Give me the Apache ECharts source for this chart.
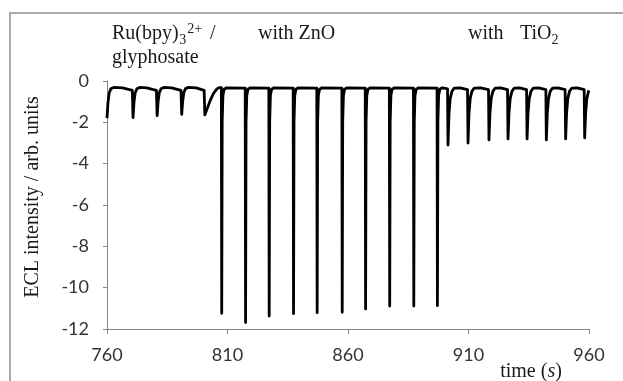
<!DOCTYPE html>
<html>
<head>
<meta charset="utf-8">
<script src="https://cdn.jsdelivr.net/npm/echarts@6/dist/echarts.min.js"></script>
<style>
  html, body { margin: 0; padding: 0; background: #fff; }
  #chart { width: 623px; height: 381px; }
</style>
</head>
<body>
<div id="chart"></div>
<script>
// ECL trace, [time (s), intensity (arb. units)]
// Ru(bpy)3 2+ / glyphosate only
const glyphosateTrace = [
  [760.0, -1.80], [760.4, -1.05], [760.9, -0.58], [761.6, -0.38], [762.8, -0.31], [766.5, -0.33], [770.5, -0.45],
  [770.8, -1.77], [771.2, -1.02], [771.7, -0.57], [772.4, -0.38], [773.6, -0.31], [776.5, -0.33], [780.5, -0.45],
  [780.8, -1.68], [781.2, -1.00], [781.7, -0.56], [782.4, -0.38], [783.6, -0.31], [786.8, -0.33], [790.7, -0.45],
  [791.0, -1.61], [791.4, -0.98], [791.9, -0.55], [792.6, -0.37], [793.8, -0.31], [797.0, -0.33], [800.3, -0.45],
  [800.6, -1.64], [801.5, -1.35], [802.8, -0.95], [804.2, -0.60], [805.6, -0.38], [806.5, -0.32], [807.45, -0.32]
];

// with ZnO
const znoTrace = [
  [807.6, -11.24], [807.8, -2.0], [808.1, -0.7], [808.6, -0.40], [809.6, -0.33], [817.35, -0.34],
  [817.5, -11.69], [817.7, -2.0], [818.0, -0.7], [818.5, -0.40], [819.5, -0.33], [827.15, -0.34],
  [827.3, -11.37], [827.5, -2.0], [827.8, -0.7], [828.3, -0.40], [829.3, -0.33], [837.25, -0.34],
  [837.4, -11.26], [837.6, -2.0], [837.9, -0.7], [838.4, -0.40], [839.4, -0.33], [847.05, -0.34],
  [847.2, -11.21], [847.4, -2.0], [847.7, -0.7], [848.2, -0.40], [849.2, -0.33], [857.45, -0.34],
  [857.6, -11.19], [857.8, -2.0], [858.1, -0.7], [858.6, -0.40], [859.6, -0.33], [867.15, -0.34],
  [867.3, -11.03], [867.5, -2.0], [867.8, -0.7], [868.3, -0.40], [869.3, -0.33], [877.15, -0.34],
  [877.3, -10.89], [877.5, -2.0], [877.8, -0.7], [878.3, -0.40], [879.3, -0.33], [887.15, -0.34],
  [887.3, -10.89], [887.5, -2.0], [887.8, -0.7], [888.3, -0.40], [889.3, -0.33], [896.95, -0.34],
  [897.1, -10.87], [897.3, -2.0], [897.6, -0.7], [898.1, -0.40], [899.1, -0.33], [901.3, -0.38]
];

// with TiO2
const tio2Trace = [
  [901.5, -3.10], [901.9, -1.60], [902.4, -0.85], [903.1, -0.50], [904.1, -0.34], [906.5, -0.33], [909.6, -0.42],
  [909.8, -3.00], [910.2, -1.60], [910.7, -0.85], [911.4, -0.50], [912.4, -0.34], [915.0, -0.33], [918.3, -0.42],
  [918.5, -2.85], [918.9, -1.55], [919.4, -0.85], [920.1, -0.50], [921.1, -0.34], [923.3, -0.33], [926.2, -0.42],
  [926.4, -2.80], [926.8, -1.55], [927.3, -0.85], [928.0, -0.50], [929.0, -0.34], [931.2, -0.33], [934.1, -0.42],
  [934.3, -2.80], [934.7, -1.55], [935.2, -0.85], [935.9, -0.50], [936.9, -0.34], [939.1, -0.33], [942.1, -0.42],
  [942.3, -2.85], [942.7, -1.55], [943.2, -0.85], [943.9, -0.50], [944.9, -0.34], [947.1, -0.33], [950.1, -0.42],
  [950.3, -2.80], [950.7, -1.55], [951.2, -0.85], [951.9, -0.50], [952.9, -0.34], [955.1, -0.33], [958.0, -0.42],
  [958.2, -2.75], [958.6, -1.55], [959.1, -0.85], [959.8, -0.50], [960.0, -0.45]
];

const xTicks = { min: 760, max: 960, interval: 50 };
const yTicks = { min: -12, max: 0, interval: 2 };

const trace = [...glyphosateTrace, ...znoTrace, ...tio2Trace];

const chart = echarts.init(document.getElementById('chart'), null, { renderer: 'canvas' });

const serif = '"Liberation Serif", "DejaVu Serif", serif';
const tickFont = 'Lato, "Liberation Sans", sans-serif';
const textColor = '#1a1a1a';

// measure text so sub/superscripts follow the main label
const measureCtx = document.createElement('canvas').getContext('2d');
function textWidth(str, font) {
  measureCtx.font = font;
  return measureCtx.measureText(str).width;
}
const ruFont = '20px ' + serif;
const smallFont = '14px ' + serif;
const ruX = 112;
const subX = ruX + textWidth('Ru(bpy)', ruFont) + 0.5;
const supX = subX + textWidth('3', smallFont) + 1;
const slashX = supX + textWidth('2+', smallFont) + 8;

const option = {
  animation: false,
  backgroundColor: '#ffffff',
  grid: { left: 107, right: 34, top: 81, bottom: 52 },
  xAxis: {
    type: 'value',
    min: xTicks.min,
    max: xTicks.max,
    interval: xTicks.interval,
    axisLine: { onZero: false, lineStyle: { color: '#868686', width: 1 } },
    axisTick: { show: true, length: 5, lineStyle: { color: '#868686' } },
    axisLabel: { margin: 17, color: '#333', fontSize: 18, fontFamily: tickFont },
    splitLine: { show: false }
  },
  yAxis: {
    type: 'value',
    min: yTicks.min,
    max: yTicks.max,
    interval: yTicks.interval,
    axisLine: { show: true, lineStyle: { color: '#868686', width: 1 } },
    axisTick: { show: true, length: 4, lineStyle: { color: '#868686' } },
    axisLabel: { margin: 18, color: '#333', fontSize: 18, fontFamily: tickFont },
    splitLine: { show: false }
  },
  series: [
    {
      type: 'line',
      data: trace,
      showSymbol: false,
      smooth: false,
      lineStyle: { color: '#000', width: 2.8, join: 'round' },
      z: 3
    }
  ],
  graphic: [
    // chart-area frame
    {
      type: 'rect',
      shape: { x: 10, y: 13, width: 700, height: 500 },
      style: { fill: 'none', stroke: '#aaaaaa', lineWidth: 2 },
      silent: true
    },
    // y axis title
    {
      type: 'text',
      x: 33, y: 197,
      rotation: Math.PI / 2,
      style: {
        text: 'ECL intensity / arb. units',
        font: '20px ' + serif,
        fill: textColor,
        align: 'center',
        verticalAlign: 'middle'
      }
    },
    // x axis title
    {
      type: 'text',
      x: 531, y: 372,
      style: {
        text: '{n|time (}{i|s}{n|)}',
        align: 'center',
        verticalAlign: 'middle',
        rich: {
          n: { font: '20px ' + serif, fill: textColor },
          i: { font: 'italic 20px ' + serif, fill: textColor }
        }
      }
    },
    // annotations
    { type: 'text', x: ruX, y: 34, style: { text: 'Ru(bpy)', font: ruFont, fill: textColor, verticalAlign: 'middle' } },
    { type: 'text', x: subX, y: 40, style: { text: '3', font: smallFont, fill: textColor, verticalAlign: 'middle' } },
    { type: 'text', x: supX, y: 29, style: { text: '2+', font: smallFont, fill: textColor, verticalAlign: 'middle' } },
    { type: 'text', x: slashX, y: 34, style: { text: '/', font: ruFont, fill: textColor, verticalAlign: 'middle' } },
    { type: 'text', x: 112, y: 58, style: { text: 'glyphosate', font: ruFont, fill: textColor, verticalAlign: 'middle' } },
    { type: 'text', x: 258, y: 34, style: { text: 'with ZnO', font: ruFont, fill: textColor, verticalAlign: 'middle' } },
    { type: 'text', x: 468, y: 34, style: { text: 'with', font: ruFont, fill: textColor, verticalAlign: 'middle' } },
    { type: 'text', x: 520, y: 34, style: { text: 'TiO', font: ruFont, fill: textColor, verticalAlign: 'middle' } },
    { type: 'text', x: 520 + textWidth('TiO', ruFont), y: 40, style: { text: '2', font: smallFont, fill: textColor, verticalAlign: 'middle' } }
  ]
};

chart.setOption(option);
</script>
</body>
</html>
